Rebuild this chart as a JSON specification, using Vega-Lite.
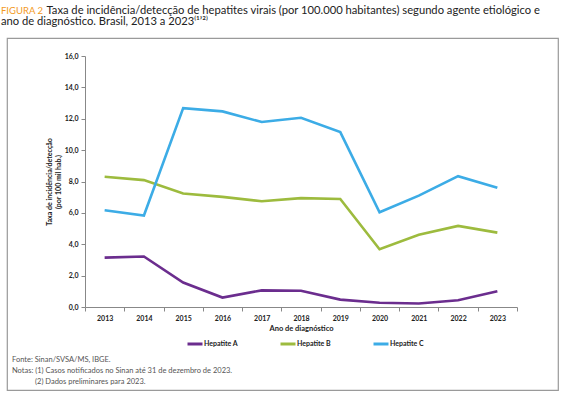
{
  "$schema": "https://vega.github.io/schema/vega-lite/v6.json",
  "padding": {"left": 1, "top": 4, "right": 0, "bottom": 0},
  "background": "white",
  "title": {
    "text": "FIGURA 2",
    "subtitle": ["\u200b\u00a0\u00a0\u00a0\u00a0\u00a0\u00a0\u00a0\u00a0\u00a0\u00a0\u00a0\u00a0\u00a0\u00a0\u00a0\u00a0Taxa de incidência/detecção de hepatites virais (por 100.000 habitantes) segundo agente etiológico e", "ano de diagnóstico. Brasil, 2013 a 2023⁽¹ʼ²⁾"],
    "anchor": "start",
    "frame": "group",
    "dx": -6,
    "offset": 9,
    "font": "Lato",
    "fontSize": 9.5,
    "fontWeight": "normal",
    "color": "#F39A1E",
    "subtitleFont": "Lato",
    "subtitleFontSize": 11.2,
    "subtitleColor": "#222222",
    "subtitlePadding": -11,
    "subtitleLineHeight": 11
  },
  "config": {
    "view": {"stroke": "#9a9a9a", "strokeWidth": 1.2},
    "font": "Lato"
  },
  "vconcat": [
    {
      "width": 551,
      "height": 352,
      "title": {
        "text": ["Fonte: Sinan/SVSA/MS, IBGE.", "Notas: (1) Casos notificados no Sinan até 31 de dezembro de 2023.", "\u200b\u00a0\u00a0\u00a0\u00a0\u00a0\u00a0\u00a0\u00a0\u00a0\u00a0\u00a0\u00a0(2) Dados preliminares para 2023."],
        "orient": "bottom",
        "anchor": "start",
        "frame": "group",
        "offset": -34,
        "dx": 5,
        "font": "Lato",
        "fontSize": 7.5,
        "fontWeight": "normal",
        "color": "#555555",
        "lineHeight": 11
      },
      "data": {
        "values": [
          {"year": "2013", "agent": "Hepatite A", "rate": 3.15},
          {"year": "2014", "agent": "Hepatite A", "rate": 3.22},
          {"year": "2015", "agent": "Hepatite A", "rate": 1.56},
          {"year": "2016", "agent": "Hepatite A", "rate": 0.6},
          {"year": "2017", "agent": "Hepatite A", "rate": 1.06},
          {"year": "2018", "agent": "Hepatite A", "rate": 1.04},
          {"year": "2019", "agent": "Hepatite A", "rate": 0.47},
          {"year": "2020", "agent": "Hepatite A", "rate": 0.27},
          {"year": "2021", "agent": "Hepatite A", "rate": 0.22},
          {"year": "2022", "agent": "Hepatite A", "rate": 0.43},
          {"year": "2023", "agent": "Hepatite A", "rate": 1.0},
          {"year": "2013", "agent": "Hepatite B", "rate": 8.3},
          {"year": "2014", "agent": "Hepatite B", "rate": 8.09},
          {"year": "2015", "agent": "Hepatite B", "rate": 7.23},
          {"year": "2016", "agent": "Hepatite B", "rate": 7.02},
          {"year": "2017", "agent": "Hepatite B", "rate": 6.74},
          {"year": "2018", "agent": "Hepatite B", "rate": 6.94},
          {"year": "2019", "agent": "Hepatite B", "rate": 6.89},
          {"year": "2020", "agent": "Hepatite B", "rate": 3.68},
          {"year": "2021", "agent": "Hepatite B", "rate": 4.6},
          {"year": "2022", "agent": "Hepatite B", "rate": 5.17},
          {"year": "2023", "agent": "Hepatite B", "rate": 4.74},
          {"year": "2013", "agent": "Hepatite C", "rate": 6.17},
          {"year": "2014", "agent": "Hepatite C", "rate": 5.83},
          {"year": "2015", "agent": "Hepatite C", "rate": 12.68},
          {"year": "2016", "agent": "Hepatite C", "rate": 12.47},
          {"year": "2017", "agent": "Hepatite C", "rate": 11.79},
          {"year": "2018", "agent": "Hepatite C", "rate": 12.06},
          {"year": "2019", "agent": "Hepatite C", "rate": 11.15},
          {"year": "2020", "agent": "Hepatite C", "rate": 6.04},
          {"year": "2021", "agent": "Hepatite C", "rate": 7.1},
          {"year": "2022", "agent": "Hepatite C", "rate": 8.34},
          {"year": "2023", "agent": "Hepatite C", "rate": 7.6}
        ]
      },
      "mark": {"type": "line", "strokeWidth": 2.6, "strokeJoin": "miter"},
      "encoding": {
        "x": {
          "field": "year",
          "type": "ordinal",
          "bandPosition": 0.5,
          "scale": {"type": "band", "range": [78, 510], "paddingInner": 0, "paddingOuter": 0},
          "axis": {
            "orient": "bottom",
            "offset": -83,
            "title": "Ano de diagnóstico",
            "titleFont": "Lato",
            "titleFontSize": 7.5,
            "titleFontWeight": "bold",
            "titleColor": "#222222",
            "titlePadding": 3,
            "labelAngle": 0,
            "labelFont": "Lato",
            "labelFontSize": 7,
            "labelFontWeight": "bold",
            "labelColor": "#222222",
            "labelPadding": 3,
            "tickBand": "extent",
            "tickSize": 4,
            "tickColor": "#888888",
            "domainColor": "#888888",
            "grid": false
          }
        },
        "y": {
          "field": "rate",
          "type": "quantitative",
          "scale": {"domain": [0, 16], "range": [269, 18], "nice": false, "zero": true},
          "axis": {
            "orient": "left",
            "offset": -78,
            "values": [0, 2, 4, 6, 8, 10, 12, 14, 16],
            "labelExpr": "replace(format(datum.value, '.1f'), '.', ',')",
            "title": ["Taxa de incidência/detecção", "(por 100 mil hab.)"],
            "titleFont": "Lato",
            "titleFontSize": 7,
            "titleFontWeight": "bold",
            "titleColor": "#222222",
            "titlePadding": 3,
            "titleLineHeight": 9,
            "labelFont": "Lato",
            "labelFontSize": 7,
            "labelFontWeight": "bold",
            "labelColor": "#222222",
            "labelPadding": 3,
            "tickSize": 4,
            "tickColor": "#888888",
            "domainColor": "#888888",
            "grid": false
          }
        },
        "color": {
          "field": "agent",
          "type": "nominal",
          "scale": {"domain": ["Hepatite A", "Hepatite B", "Hepatite C"], "range": ["#6B2D8E", "#9DBB3E", "#3CACE6"]},
          "legend": {
            "title": null,
            "orient": "none",
            "direction": "horizontal",
            "legendX": 179,
            "legendY": 297,
            "padding": 0,
            "symbolType": "stroke",
            "symbolSize": 225,
            "symbolStrokeWidth": 3,
            "labelFont": "Lato",
            "labelFontSize": 7,
            "labelFontWeight": "bold",
            "labelColor": "#222222",
            "labelOffset": 0,
            "columnPadding": 36
          }
        }
      }
    }
  ]
}
